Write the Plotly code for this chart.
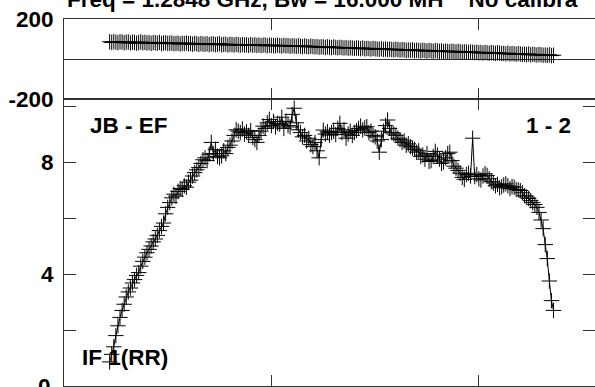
import plotly.graph_objects as go

# ---------------- data ----------------
channels = list(range(22, 237))

amplitude = [
    0.86, 1.13, 1.40, 1.80, 2.15, 2.45, 2.70, 2.92, 3.18, 3.36,
    3.50, 3.68, 3.80, 3.95, 4.05, 4.28, 4.45, 4.60, 4.76, 4.88,
    5.00, 5.15, 5.25, 5.38, 5.55, 5.70, 5.82, 6.15, 6.38, 6.55,
    6.72, 6.85, 6.78, 6.95, 7.05, 7.02, 7.15, 7.10, 7.28, 7.35,
    7.50, 7.62, 7.72, 7.80, 7.95, 8.08, 8.15, 8.05, 8.28, 8.70,
    8.30, 8.45, 8.20, 8.15, 8.22, 8.40, 8.30, 8.52, 8.60, 8.75,
    8.95, 9.15, 9.10, 9.05, 9.18, 9.00, 9.08, 8.95, 9.12, 8.88,
    8.80, 8.70, 8.95, 9.10, 9.28, 9.20, 9.40, 9.52, 9.30, 9.45,
    9.25, 9.38, 9.35, 9.60, 9.20, 9.45, 9.30, 9.25, 9.70, 9.92,
    9.40, 9.15, 9.05, 8.90, 8.95, 8.75, 8.85, 8.62, 8.55, 8.70,
    8.40, 8.15, 8.80, 9.14, 9.00, 9.08, 8.96, 9.05, 9.10, 8.98,
    9.20, 9.38, 9.05, 9.15, 8.85, 9.00, 9.10, 8.95, 9.05, 9.12,
    9.20, 9.28, 9.15, 9.22, 9.26, 9.05, 9.10, 8.95, 8.90, 8.75,
    8.35, 8.80, 9.10, 9.30, 9.50, 9.20, 9.05, 9.00, 8.95, 8.85,
    8.80, 8.70, 8.75, 8.60, 8.65, 8.55, 8.50, 8.45, 8.35, 8.40,
    8.20, 8.25, 8.10, 8.30, 8.02, 8.05, 8.20, 8.38, 8.25, 8.10,
    7.95, 8.00, 8.15, 8.30, 8.35, 8.05, 7.85, 7.78, 7.70, 7.60,
    7.45, 7.38, 7.55, 7.60, 7.50, 8.85, 7.48, 7.55, 7.40, 7.36,
    7.50, 7.58, 7.52, 7.40, 7.30, 7.25, 7.15, 7.20, 7.08, 7.12,
    7.18, 7.22, 7.15, 7.05, 7.12, 7.10, 7.02, 7.00, 6.98, 6.90,
    6.80, 6.75, 6.70, 6.62, 6.55, 6.48, 6.38, 6.20, 5.93, 5.62,
    5.05, 4.55, 3.75, 3.05, 2.70,
]

phase = [
    86, 83, 87, 84, 82, 86, 85, 81, 84, 85,
    80, 84, 83, 79, 82, 85, 81, 83, 80, 82,
    78, 82, 81, 79, 83, 77, 80, 81, 78, 79,
    80, 76, 78, 79, 75, 78, 77, 80, 76, 77,
    74, 78, 76, 73, 77, 75, 74, 76, 72, 75,
    75, 72, 74, 76, 71, 73, 74, 70, 73, 72,
    70, 73, 71, 69, 72, 70, 71, 68, 72, 69,
    71, 68, 70, 67, 69, 70, 66, 69, 68, 67,
    66, 69, 67, 65, 68, 66, 67, 64, 66, 65,
    63, 66, 64, 62, 65, 63, 61, 64, 62, 61,
    62, 59, 61, 60, 58, 61, 59, 57, 60, 58,
    56, 58, 57, 55, 57, 54, 56, 55, 53, 55,
    54, 52, 55, 51, 53, 52, 50, 53, 51, 50,
    49, 51, 48, 50, 47, 49, 48, 46, 49, 47,
    45, 47, 46, 43, 45, 44, 46, 42, 44, 43,
    41, 44, 42, 40, 43, 41, 39, 42, 40, 38,
    40, 37, 39, 38, 36, 39, 37, 35, 38, 36,
    34, 36, 35, 33, 35, 34, 32, 34, 31, 33,
    30, 33, 31, 29, 32, 30, 28, 31, 29, 27,
    28, 26, 29, 25, 27, 26, 24, 27, 25, 23,
    24, 22, 25, 21, 23, 22, 20, 23, 21, 19,
    20, 18, 21, 17, 19,
]

phase_ticks = [-200, 200]
phase_tick_text = ["-200", "200"]
amp_ticks = [0, 2, 4, 6, 8, 10]
amp_tick_text = ["", "", "4", "", "8", ""]
amp_zero_label = "0"
chan_ticks = [100, 200]

title_text = "Freq = 1.2848 GHz, Bw = 16.000 MH\u00a0\u00a0\u00a0\u00a0No calibra"
baseline_label = "JB - EF"
pol_label = "IF 1(RR)"
corr_label = "1 - 2"

# ---------------- figure ----------------
FONT = "Liberation Sans, Arial, Helvetica, sans-serif"
AX = "#333333"
H = 367.0   # plot-area height in px
W = 531.0   # plot-area width in px

marker = dict(symbol="cross-thin", size=11, color="black",
              line=dict(color="black", width=1))

fig = go.Figure()
fig.add_trace(go.Scatter(x=channels, y=phase, mode="lines+markers",
                         marker=marker, line=dict(color="black", width=1),
                         xaxis="x2", yaxis="y2", showlegend=False))
fig.add_trace(go.Scatter(x=channels, y=amplitude, mode="lines+markers",
                         marker=marker, line=dict(color="black", width=1),
                         xaxis="x", yaxis="y", showlegend=False))

split = 1 - 80 / H

common_x = dict(range=[0, 256], tickvals=chan_ticks, showticklabels=False,
                ticks="inside", ticklen=11, tickcolor=AX, tickwidth=1,
                showline=True, linecolor=AX, linewidth=1, mirror="ticks",
                showgrid=False, zeroline=False, automargin=False)

tick_font = dict(family=FONT, size=22.5, color="black", weight="bold")
ann_font = dict(family=FONT, size=22.5, color="black", weight="bold")

fig.update_layout(
    width=595, height=387,
    margin=dict(l=64, r=0, t=19, b=1, autoexpand=False),
    paper_bgcolor="white", plot_bgcolor="white",
    font=dict(family=FONT, size=22, color="black", weight="bold"),
    xaxis=dict(domain=[0, 1], anchor="y", **common_x),
    xaxis2=dict(domain=[0, 1], anchor="y2", matches="x", **common_x),
    yaxis=dict(domain=[0, split], range=[0, 10.25], tickvals=amp_ticks,
               ticktext=amp_tick_text, ticks="inside", ticklen=12,
               tickcolor=AX, showline=True, linecolor=AX, mirror="ticks",
               showgrid=False, zeroline=False, ticklabelstandoff=5,
               automargin=False, tickfont=tick_font),
    yaxis2=dict(domain=[split, 1], range=[-200, 200], tickvals=phase_ticks,
                ticktext=phase_tick_text, ticks="inside", ticklen=9,
                tickcolor=AX, showline=True, linecolor=AX, mirror="ticks",
                showgrid=False, zeroline=True, zerolinecolor=AX,
                zerolinewidth=1, ticklabelstandoff=5, automargin=False,
                tickfont=tick_font),
    annotations=[
        dict(text=title_text, xref="paper", yref="paper", x=1 / W,
             y=1 + 20 / H, xanchor="left", yanchor="middle", showarrow=False,
             font=ann_font),
        dict(text=baseline_label, xref="paper", yref="paper", x=24 / W,
             y=(386 - 125) / H, xanchor="left", yanchor="middle",
             showarrow=False, font=ann_font),
        dict(text=corr_label, xref="paper", yref="paper", x=(573 - 64) / W,
             y=(386 - 125) / H, xanchor="right", yanchor="middle",
             showarrow=False, font=ann_font),
        dict(text=pol_label, xref="paper", yref="paper", x=16 / W,
             y=(386 - 357) / H, xanchor="left", yanchor="middle",
             showarrow=False, font=ann_font),
        dict(text=amp_zero_label, xref="paper", yref="y", x=-11 / W,
             y=0, xanchor="right", yanchor="middle", showarrow=False,
             yshift=0, font=tick_font),
    ],
)

fig.write_html("out.html", config={"displayModeBar": False},
               post_script="document.body.style.margin='0';document.body.style.overflow='hidden';")
